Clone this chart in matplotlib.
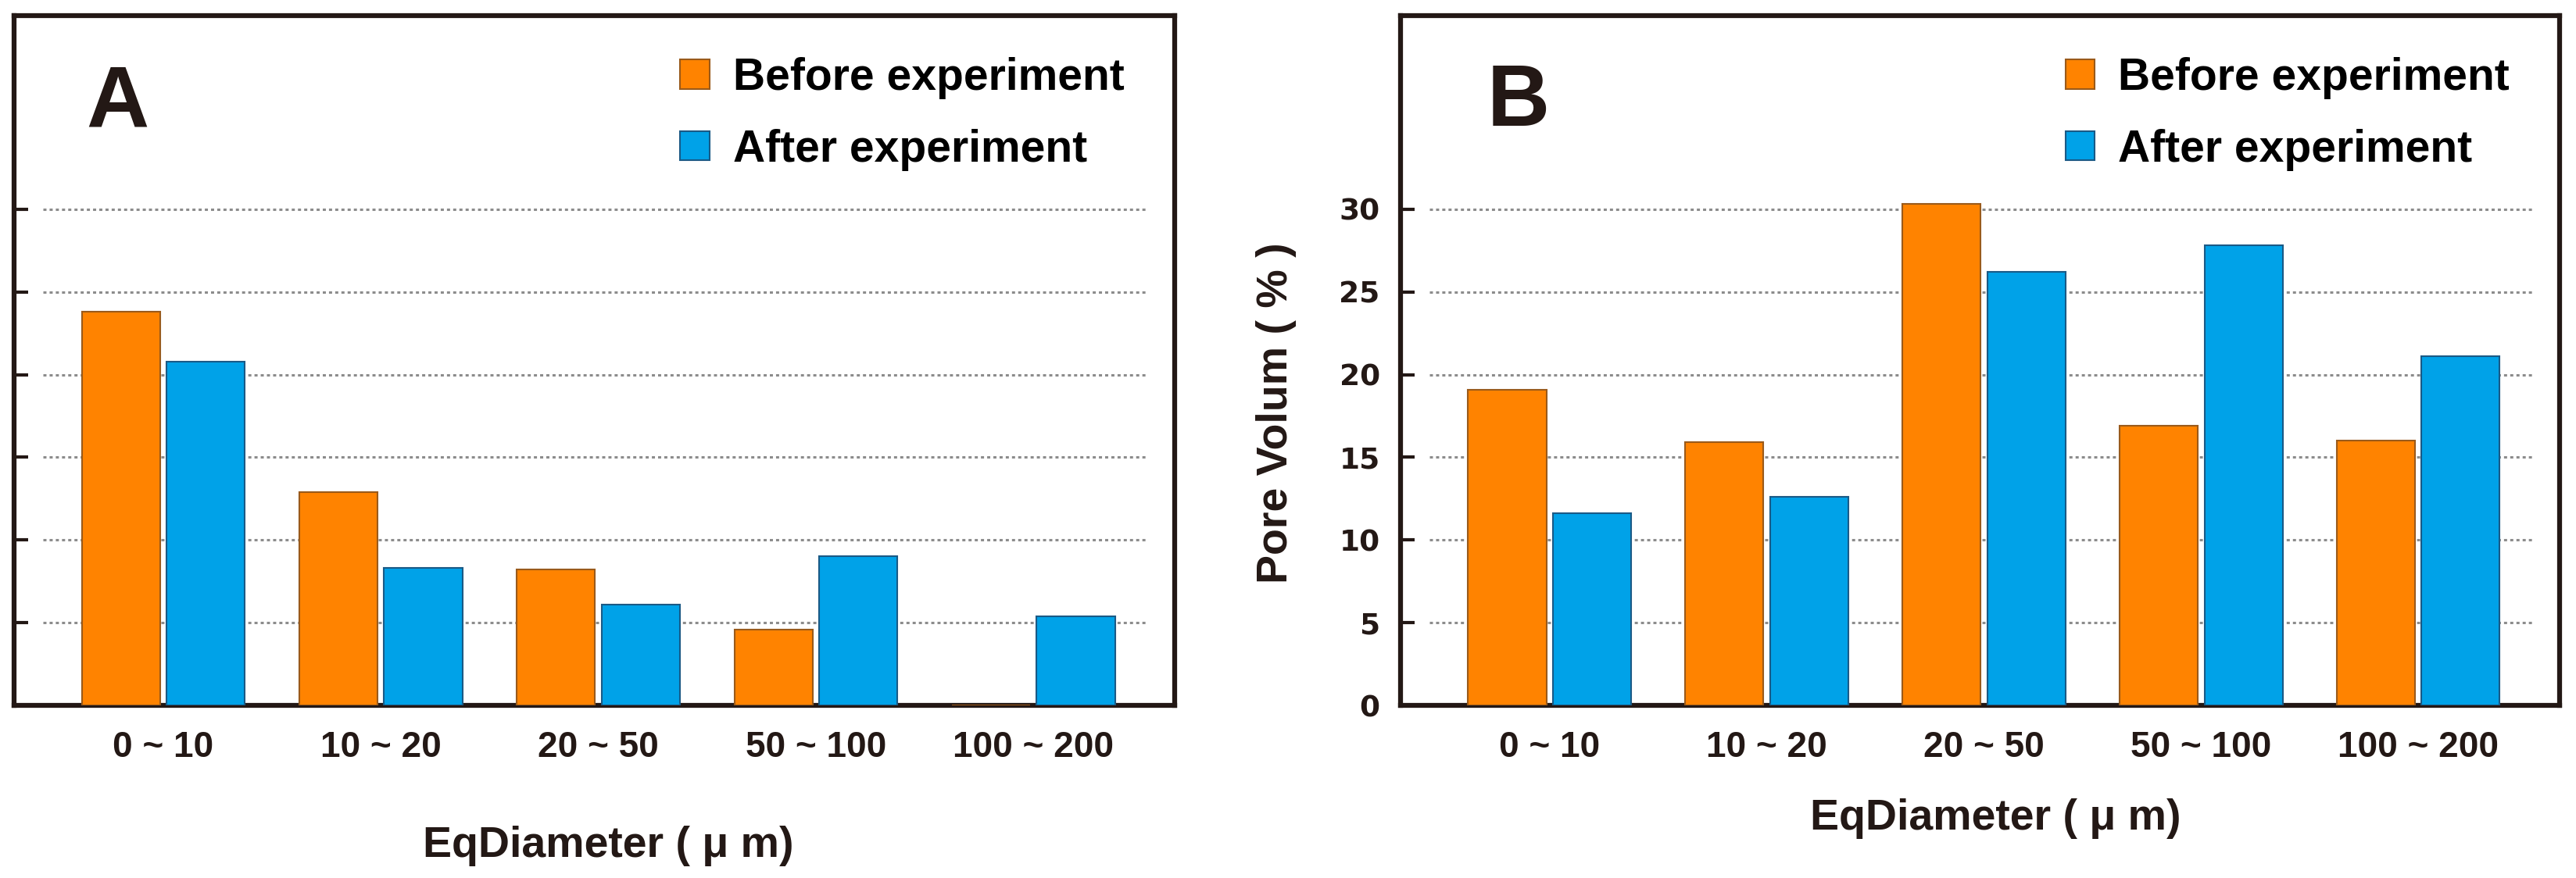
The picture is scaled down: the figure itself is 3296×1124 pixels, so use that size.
import numpy as np
import matplotlib
matplotlib.use('Agg')
import matplotlib.pyplot as plt
from matplotlib.patches import Patch

categories = ['0 ~ 10', '10 ~ 20', '20 ~ 50', '50 ~ 100', '100 ~ 200']
a_before = [23.8, 12.9, 8.2, 4.6, 0.0]
a_after = [20.8, 8.3, 6.1, 9.0, 5.4]
b_before = [19.1, 15.9, 30.3, 16.9, 16.0]
b_after = [11.6, 12.6, 26.2, 27.8, 21.1]
y_ticks = [0, 5, 10, 15, 20, 25, 30]
legend_labels = ['Before experiment', 'After experiment']

orange = '#ff8300'
orange_edge = '#9a5a1a'
blue = '#00a2e8'
blue_edge = '#1a5a86'
ink = '#231815'
arial = ['Liberation Sans', 'DejaVu Sans']
wide = ['DejaVu Sans']

fig = plt.figure(figsize=(32.96, 11.24), dpi=100)
ax_a = fig.add_axes([0.00546, 0.1966, 0.4506, 0.7856])
ax_b = fig.add_axes([0.5437, 0.1966, 0.4499, 0.7856])

x = np.arange(len(categories))
width = 0.36
off = 0.195


def draw_panel(ax, before, after, show_labels):
    ax.bar(x - off, before, width, color=orange, edgecolor=orange_edge, linewidth=1.5, zorder=3)
    ax.bar(x + off, after, width, color=blue, edgecolor=blue_edge, linewidth=1.5, zorder=3)
    for y in y_ticks[1:]:
        ax.axhline(y, xmin=0.025, xmax=0.977, color='#8c8c8c', linewidth=2.2,
                   linestyle=(0, (1.3, 1.3)), zorder=1)
    ax.set_xlim(-0.686, 4.65)
    ax.set_ylim(0, 41.7)
    ax.set_yticks(y_ticks)
    ax.set_xticks(x)
    ax.set_xticklabels(categories, family=arial, fontweight='bold', fontsize=33, color=ink)
    ax.tick_params(axis='x', length=0, pad=23)
    ax.tick_params(axis='y', direction='in', length=13, width=3, color=ink,
                   labelsize=27, pad=19, labelleft=show_labels)
    for lab in ax.get_yticklabels():
        lab.set_fontweight('bold')
        lab.set_family(wide)
        lab.set_color(ink)
    for s in ax.spines.values():
        s.set_linewidth(4.5)
        s.set_color(ink)
    handles = [Patch(facecolor=orange, edgecolor=orange_edge, linewidth=1.5),
               Patch(facecolor=blue, edgecolor=blue_edge, linewidth=1.5)]
    ax.legend(handles, legend_labels, loc='upper left', bbox_to_anchor=(0.574, 0.94),
              frameon=False, borderpad=0, borderaxespad=0,
              handlelength=0.65, handleheight=0.64, handletextpad=0.53, labelspacing=0.66,
              prop={'family': arial, 'weight': 'bold', 'size': 41})


draw_panel(ax_a, a_before, a_after, False)
draw_panel(ax_b, b_before, b_after, True)

fig.text(0.0334, 0.855, 'A', family=arial, fontsize=80, fontweight='bold', color=ink,
         va='baseline', ha='left')
fig.text(0.5774, 0.857, 'B', family=arial, fontsize=80, fontweight='bold', color=ink,
         va='baseline', ha='left')

fig.text(0.236, 0.024, 'EqDiameter ( \u03bc m)', family=arial, fontweight='bold', fontsize=40,
         color=ink, ha='center', va='baseline')
fig.text(0.7746, 0.055, 'EqDiameter ( \u03bc m)', family=arial, fontweight='bold', fontsize=40,
         color=ink, ha='center', va='baseline')
fig.text(0.4954, 0.530, 'Pore Volum ( % )', family=arial, fontsize=40, fontweight='bold', color=ink,
         rotation=90, ha='center', va='center')

fig.savefig('out.png', dpi=100)
